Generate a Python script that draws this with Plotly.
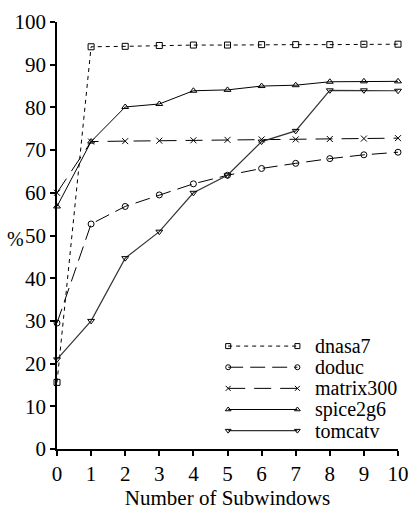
import plotly.graph_objects as go

# Number of subwindows on the x axis
subwindows = [0, 1, 2, 3, 4, 5, 6, 7, 8, 9, 10]

# Percentages per benchmark
dnasa7 = [15.6, 94.2, 94.3, 94.5, 94.6, 94.6, 94.7, 94.7, 94.7, 94.8, 94.8]
doduc = [29.5, 52.7, 56.8, 59.5, 62.1, 64.1, 65.7, 66.9, 68.0, 68.9, 69.5]
matrix300 = [60.0, 72.0, 72.1, 72.2, 72.3, 72.4, 72.5, 72.5, 72.6, 72.7, 72.8]
spice2g6 = [56.8, 72.0, 80.1, 80.8, 83.9, 84.1, 85.0, 85.2, 86.0, 86.1, 86.1]
tomcatv = [21.0, 30.0, 44.7, 50.9, 60.0, 64.1, 72.0, 74.5, 84.0, 84.0, 83.9]

series_names = ["dnasa7", "doduc", "matrix300", "spice2g6", "tomcatv"]
series_values = [dnasa7, doduc, matrix300, spice2g6, tomcatv]

y_ticks = [0, 10, 20, 30, 40, 50, 60, 70, 80, 90, 100]
y_tick_text = ["0", "10", "20", "30", "40", "50", "60", "70", "80", "90", "100"]

styles = {
    "dnasa7": dict(dash="4px,4px", symbol="square-open", color="#000000", width=1),
    "doduc": dict(dash="15px,7px", symbol="circle-open", color="#000000", width=1),
    "matrix300": dict(dash="17px,9px", symbol="x-thin-open", color="#000000", width=1),
    "spice2g6": dict(dash="solid", symbol="triangle-up-open", color="#000000", width=1),
    "tomcatv": dict(dash="solid", symbol="triangle-down-open", color="#333333", width=1.2),
}

FONT = "Liberation Serif"

fig = go.Figure()

for name, vals in zip(series_names, series_values):
    st = styles[name]
    fig.add_trace(go.Scatter(
        x=subwindows, y=vals, mode="lines+markers", name=name,
        line=dict(color=st["color"], width=st["width"], dash=st["dash"]),
        marker=dict(symbol=st["symbol"], size=6, color="#000000",
                    line=dict(color="#000000", width=1)),
        cliponaxis=False, showlegend=False,
    ))

# Hand-drawn key in the lower right: a sample segment with a marker at each end
key_x0, key_x1 = 0.502, 0.705
key_top, key_step = 0.241, 0.0495
for i, name in enumerate(series_names):
    st = styles[name]
    ky = key_top - i * key_step
    fig.add_trace(go.Scatter(
        x=[key_x0, key_x1], y=[ky, ky], mode="lines+markers",
        xaxis="x2", yaxis="y2",
        line=dict(color=st["color"], width=st["width"], dash=st["dash"]),
        marker=dict(symbol=st["symbol"], size=5, color="#000000",
                    line=dict(color="#000000", width=1)),
        cliponaxis=False, showlegend=False, hoverinfo="skip",
    ))
    fig.add_annotation(
        x=key_x1 + 0.05, y=ky, xref="x2", yref="y2", text=name,
        showarrow=False, xanchor="left", yanchor="middle", borderpad=0,
        font=dict(family=FONT, size=20, color="#000000"),
    )

fig.add_annotation(
    x=0, y=50, xref="paper", yref="y", text="%", showarrow=False,
    xanchor="right", yanchor="middle", xshift=-31, yshift=-3,
    font=dict(family=FONT, size=20, color="#000000"),
)

axis_common = dict(
    showgrid=False, zeroline=False, showline=True, linecolor="#000000",
    linewidth=1.5, ticks="outside", ticklen=5, tickwidth=1.5,
    tickcolor="#000000", ticklabeloverflow="allow",
    tickfont=dict(family=FONT, size=21, color="#000000"),
)

fig.update_layout(
    width=419, height=513,
    margin=dict(l=57, r=10, t=15, b=60),
    paper_bgcolor="white", plot_bgcolor="white",
    font=dict(family=FONT, size=21, color="#000000"),
    xaxis=dict(range=[0, 10], tickvals=subwindows, **axis_common,
               title=dict(text="Number of Subwindows", standoff=2,
                          font=dict(family=FONT, size=21))),
    yaxis=dict(range=[0, 100], tickvals=y_ticks, ticktext=y_tick_text,
               **axis_common),
    xaxis2=dict(range=[0, 1], overlaying="x", visible=False, fixedrange=True),
    yaxis2=dict(range=[0, 1], overlaying="y", visible=False, fixedrange=True),
    showlegend=False,
)

fig.write_html("out.html")
